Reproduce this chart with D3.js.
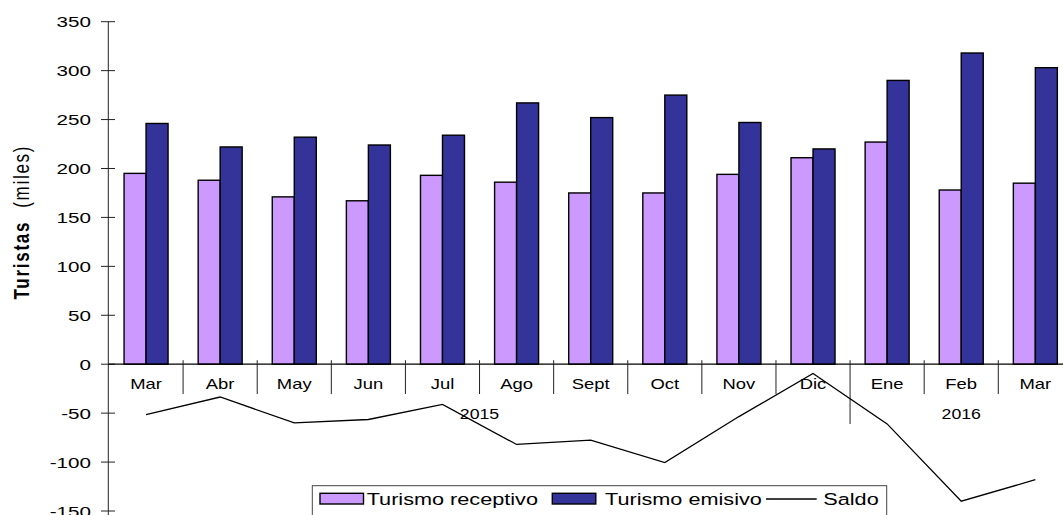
<!DOCTYPE html>
<html>
<head>
<meta charset="utf-8">
<script src="https://cdn.jsdelivr.net/npm/d3@7"></script>
<style>
  body { margin: 0; background: #fff; }
  text { font-family: "Liberation Sans", Arial, sans-serif; fill: #000; }
</style>
</head>
<body>
<div id="canvas"></div>
<script>
// --- Data
var months = ['Mar','Abr','May','Jun','Jul','Ago','Sept','Oct','Nov','Dic','Ene','Feb','Mar'];
var years = [{label:'2015', from:0, to:9}, {label:'2016', from:10, to:12}];
var receptivo = [195, 188, 171, 167, 193, 186, 175, 175, 194, 211, 227, 178, 185];
var emisivo = [246, 222, 232, 224, 234, 267, 252, 275, 247, 220, 290, 318, 303];
var saldo = [-51.5, -33.5, -60, -56.5, -41, -82, -77.5, -100.5, -53.5, -9.5, -61, -140, -118];
var yTicks = [-150, -100, -50, 0, 50, 100, 150, 200, 250, 300, 350];
var seriesNames = ['Turismo receptivo', 'Turismo emisivo', 'Saldo'];
var colors = ['#CC99FF', '#333399'];

var W = 1063, H = 515;

var svg = d3.select('#canvas')
  .append('svg')
  .attr('width', W)
  .attr('height', H);

// stretch text horizontally like the original picture
function stretch(sel, sx) {
  sel.each(function() {
    var l = this.getComputedTextLength();
    d3.select(this).attr('textLength', l * sx).attr('lengthAdjust', 'spacingAndGlyphs');
  });
}

// --- Scales
var y = d3.scaleLinear()
  .domain([-150, 350])
  .range([511, 21.7]);

var x = d3.scaleBand()
  .domain(d3.range(months.length))
  .range([109, 1072.4])
  .padding(0);

var bw = x.bandwidth();
var x1 = d3.scaleBand()
  .domain([0, 1])
  .range([-22, 22]);

// --- Bars
var bars = svg.append('g');
[receptivo, emisivo].forEach(function(vals, k) {
  bars.selectAll('.s' + k)
    .data(vals)
    .enter().append('rect')
    .attr('x', function(d, i) { return x(i) + bw / 2 + x1(k); })
    .attr('y', function(d) { return y(d); })
    .attr('width', x1.bandwidth())
    .attr('height', function(d) { return y(0) - y(d); })
    .attr('fill', colors[k])
    .attr('stroke', '#000')
    .attr('stroke-width', 1.4);
});

// --- Y axis
var ax = svg.append('g');
ax.append('line')
  .attr('x1', 108.3).attr('x2', 108.3)
  .attr('y1', y(350)).attr('y2', H)
  .attr('stroke', '#222').attr('stroke-width', 1);

ax.selectAll('.yt')
  .data(yTicks)
  .enter().append('line')
  .attr('x1', 101).attr('x2', 115)
  .attr('y1', function(d) { return y(d); })
  .attr('y2', function(d) { return y(d); })
  .attr('stroke', '#222');

ax.selectAll('.yl')
  .data(yTicks)
  .enter().append('text')
  .attr('x', 91)
  .attr('y', function(d) { return y(d); })
  .attr('dy', '0.36em')
  .attr('text-anchor', 'end')
  .style('font-size', '15.5px')
  .text(function(d) { return d; })
  .call(stretch, 1.33);

// y title
var yt = svg.append('text')
  .attr('transform', 'translate(29,223) scale(1.25,1) rotate(-90)')
  .attr('text-anchor', 'middle')
  .style('font-size', '17px');
yt.append('tspan').style('font-weight', 'bold').text('Turistas');
yt.append('tspan').text('\u00a0 (miles)');
yt.attr('textLength', 153).attr('lengthAdjust', 'spacing');

// --- X axis (zero line, month and year separators)
ax.append('line')
  .attr('x1', 108.3).attr('x2', W)
  .attr('y1', y(0)).attr('y2', y(0))
  .attr('stroke', '#000').attr('stroke-width', 1.2);

var seps = d3.range(1, months.length);
ax.selectAll('.xs')
  .data(seps)
  .enter().append('line')
  .attr('x1', function(i) { return x(i); })
  .attr('x2', function(i) { return x(i); })
  .attr('y1', y(0) - 4)
  .attr('y2', function(i) { return i == 10 ? 424 : 394; })
  .attr('stroke', '#222');

ax.selectAll('.xl')
  .data(months)
  .enter().append('text')
  .attr('x', function(d, i) { return x(i) + bw / 2; })
  .attr('y', 389.3)
  .attr('text-anchor', 'middle')
  .style('font-size', '14.5px')
  .text(function(d) { return d; })
  .call(stretch, 1.27);

ax.selectAll('.yr')
  .data(years)
  .enter().append('text')
  .attr('x', function(d) { return (x(d.from) + x(d.to) + bw) / 2; })
  .attr('y', 419.3)
  .attr('text-anchor', 'middle')
  .style('font-size', '15px')
  .text(function(d) { return d.label; })
  .call(stretch, 1.18);

// --- Saldo line
var line = d3.line()
  .x(function(d, i) { return x(i) + bw / 2; })
  .y(function(d) { return y(d); });

svg.append('path')
  .attr('d', line(saldo))
  .attr('fill', 'none')
  .attr('stroke', '#000')
  .attr('stroke-width', 1.3);

// --- Legend
var lg = svg.append('g');
lg.append('rect')
  .attr('x', 312.3).attr('y', 485.7)
  .attr('width', 574.4).attr('height', 34)
  .attr('fill', '#fff')
  .attr('stroke', '#444').attr('stroke-width', 1);

var swX = [320, 552.3];
swX.forEach(function(sx, k) {
  lg.append('rect')
    .attr('x', sx).attr('y', 493.3)
    .attr('width', 43.5).attr('height', 10.7)
    .attr('fill', colors[k])
    .attr('stroke', '#000').attr('stroke-width', 1.4);
});
lg.append('line')
  .attr('x1', 766).attr('x2', 816.7)
  .attr('y1', 499).attr('y2', 499)
  .attr('stroke', '#000').attr('stroke-width', 1.3);

var lgX = [366.7, 605, 823.3];
lg.selectAll('.lt')
  .data(seriesNames)
  .enter().append('text')
  .attr('x', function(d, i) { return lgX[i]; })
  .attr('y', 505)
  .style('font-size', '16.3px')
  .text(function(d) { return d; })
  .call(stretch, 1.33);
</script>
</body>
</html>
